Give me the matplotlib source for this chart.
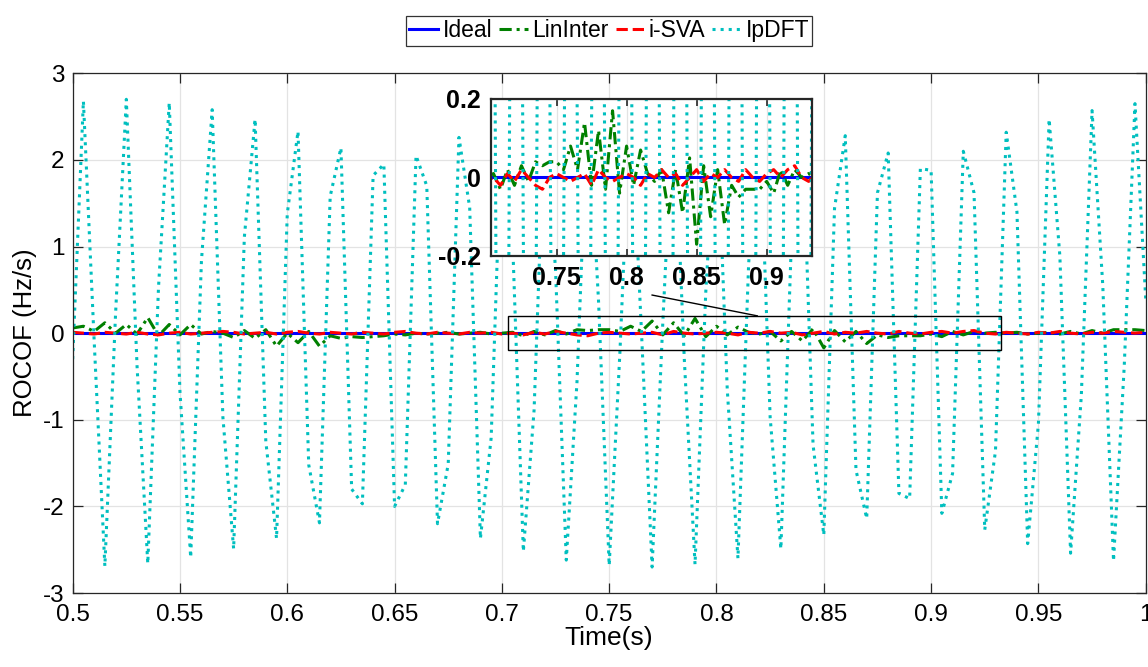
import numpy as np
import matplotlib
matplotlib.use("Agg")
import matplotlib.pyplot as plt
from matplotlib.patches import Rectangle

plt.rcParams['font.family'] = ['Liberation Sans', 'DejaVu Sans']
plt.rcParams['axes.unicode_minus'] = False

# time grid (s), one estimate every 5 ms
time_s = np.round(np.arange(0.5, 1.0001, 0.005), 3)

# ideal ROCOF is zero throughout
ideal = np.zeros_like(time_s)

lininter = [0.06, 0.08, 0.02, 0.12, 0.00, 0.10, -0.01, 0.18, -0.03, 0.10,
            -0.02, 0.10, -0.01, 0.02, 0.00, -0.05, 0.03, -0.06, 0.04, -0.15,
            0.00, -0.11, 0.02, -0.15, -0.03, -0.06, -0.04, -0.05, -0.04, -0.03,
            -0.01, -0.02, 0.00, -0.01, 0.00, 0.01, -0.01, 0.00, 0.01, -0.01,
            0.00, 0.01, -0.03, 0.02, -0.02, 0.03, -0.01, 0.04, 0.03, 0.04,
            0.04, 0.02, 0.08, 0.02, 0.14, -0.02, 0.12, -0.03, 0.17, -0.04,
            0.08, -0.02, 0.07, 0.01, -0.01, 0.02, -0.09, 0.02, -0.09, 0.05,
            -0.17, 0.03, -0.10, 0.02, -0.12, -0.02, -0.05, -0.03, -0.03, -0.03,
            -0.01, -0.04, 0.02, -0.02, 0.02, 0.00, 0.01, 0.00, 0.01, -0.01,
            0.00, 0.01, -0.01, 0.02, -0.01, 0.03, 0.00, 0.04, 0.04, 0.04,
            0.03]

isva = [0.01, 0.00, -0.01, 0.01, 0.00, -0.01, 0.01, -0.01, -0.02, 0.00,
        0.01, -0.01, 0.00, 0.01, 0.02, 0.01, -0.01, 0.00, 0.01, -0.01,
        0.01, 0.02, 0.00, -0.01, 0.01, 0.00, -0.01, 0.01, 0.00, -0.01,
        0.01, 0.02, 0.00, -0.01, 0.01, 0.00, -0.01, 0.01, 0.00, 0.01,
        -0.01, 0.00, -0.02, 0.01, -0.01, 0.02, 0.00, -0.02, -0.03, 0.00,
        0.01, 0.00, -0.01, 0.00, 0.01, -0.02, 0.02, 0.00, -0.01, 0.00,
        0.01, 0.00, -0.02, 0.01, 0.00, 0.02, 0.00, 0.01, -0.02, 0.00,
        0.02, -0.01, 0.01, 0.00, 0.02, 0.00, -0.01, 0.02, 0.00, -0.01,
        0.01, 0.02, 0.00, 0.02, 0.03, 0.00, -0.01, 0.01, 0.00, -0.01,
        0.01, 0.00, 0.02, 0.00, -0.01, 0.01, 0.00, 0.02, 0.01, 0.00,
        0.01]

ipdft = [-0.30, 2.68, -0.08, -2.69, 0.23, 2.70, -0.38, -2.66, 0.53, 2.66,
         -0.68, -2.59, 0.83, 2.58, -0.97, -2.49, 1.11, 2.47, -1.25, -2.37,
         1.38, 2.33, -1.52, -2.19, 1.58, 2.14, -1.80, -1.97, 1.82, 1.95,
         -2.00, -1.75, 2.05, 1.70, -2.20, -1.51, 2.26, 1.45, -2.37, -1.21,
         2.45, 1.06, -2.52, -0.89, 2.58, 0.73, -2.62, -0.56, 2.66, 0.39,
         -2.68, -0.22, 2.70, 0.04, -2.70, 0.13, 2.69, -0.30, -2.67, 0.47,
         2.64, -0.64, -2.60, 0.81, 2.55, -0.97, -2.49, 1.13, 2.41, -1.29,
         -2.33, 1.44, 2.28, -1.58, -2.14, 1.62, 2.08, -1.85, -1.91, 1.90,
         1.88, -2.08, -1.62, 2.10, 1.62, -2.27, -1.36, 2.32, 1.40, -2.43,
         -1.05, 2.47, 0.89, -2.54, -0.72, 2.57, 0.55, -2.63, -0.38, 2.65,
         0.40]

names = ['Ideal', 'LinInter', 'i-SVA', 'IpDFT']
xticks_main = [0.5, 0.55, 0.6, 0.65, 0.7, 0.75, 0.8, 0.85, 0.9, 0.95, 1.0]
xlabels_main = ['0.5', '0.55', '0.6', '0.65', '0.7', '0.75', '0.8', '0.85', '0.9', '0.95', '1']
xticks_zoom = [0.75, 0.8, 0.85, 0.9]
xlabels_zoom = ['0.75', '0.8', '0.85', '0.9']
zoom_x = (0.703, 0.9325)
zoom_y = (-0.2, 0.2)


def draw_series(ax):
	ax.plot(time_s, ideal, '-', color=(0, 0, 1), lw=2.2, label=names[0])
	ax.plot(time_s, lininter, '-.', color=(0, 0.5, 0), lw=2.2, label=names[1],
	        dashes=(4, 1.6, 1, 1.6))
	ax.plot(time_s, isva, '--', color=(1, 0, 0), lw=2.2, label=names[2])
	ax.plot(time_s, ipdft, ':', color=(0, 0.75, 0.75), lw=2.2, label=names[3])


fig = plt.figure(figsize=(11.48, 6.67), dpi=100)
ax = fig.add_axes([0.0633, 0.1109, 0.9347, 0.7792])
draw_series(ax)
ax.set_xlim(0.5, 1.0)
ax.set_ylim(-3, 3)
ax.set_xticks(xticks_main)
ax.set_xticklabels(xlabels_main)
ax.set_yticks([-3, -2, -1, 0, 1, 2, 3])
ax.grid(True, color='#e3e3e3', lw=0.9)
ax.set_axisbelow(True)
ax.tick_params(direction='in', top=True, right=True, length=7, width=0.9,
               color='#262626', labelsize=17.5)
ax.tick_params(axis='x', pad=8)
ax.tick_params(axis='y', pad=6)
for s in ax.spines.values():
	s.set_color('#262626')
	s.set_linewidth(0.9)
ax.set_xlabel('Time(s)', fontsize=19, labelpad=0)
ax.set_ylabel('ROCOF (Hz/s)', fontsize=18.5, labelpad=4)

leg = ax.legend(loc='lower center', bbox_to_anchor=(0.5, 1.053), ncol=4, fontsize=16.5,
                frameon=True, fancybox=False, edgecolor='black', borderpad=0.15,
                handlelength=1.25, handletextpad=0.2, columnspacing=0.3, borderaxespad=0)
leg.get_frame().set_linewidth(0.9)

# zoom box and connector
ax.add_patch(Rectangle((zoom_x[0], zoom_y[0]), zoom_x[1] - zoom_x[0], zoom_y[1] - zoom_y[0],
                       fill=False, edgecolor='black', lw=1.0, zorder=5))
ax.plot([0.77, 0.819], [0.44, 0.2], color='black', lw=1.0, zorder=5)

# inset
axi = fig.add_axes([0.4274, 0.6162, 0.2801, 0.2354])
axi.set_facecolor('white')
draw_series(axi)
axi.set_xlim(*zoom_x)
axi.set_ylim(*zoom_y)
axi.set_xticks(xticks_zoom)
axi.set_xticklabels(xlabels_zoom)
axi.set_yticks([-0.2, 0, 0.2])
axi.set_yticklabels(['-0.2', '0', '0.2'])
axi.grid(True, color='#e3e3e3', lw=0.9)
axi.set_axisbelow(True)
axi.tick_params(direction='in', top=True, right=True, length=5, width=1.2,
                color='#262626', labelsize=18, pad=7)
for lbl in axi.get_xticklabels() + axi.get_yticklabels():
	lbl.set_fontweight('bold')
for s in axi.spines.values():
	s.set_color('#262626')
	s.set_linewidth(1.6)

fig.savefig('out.png', dpi=100)
